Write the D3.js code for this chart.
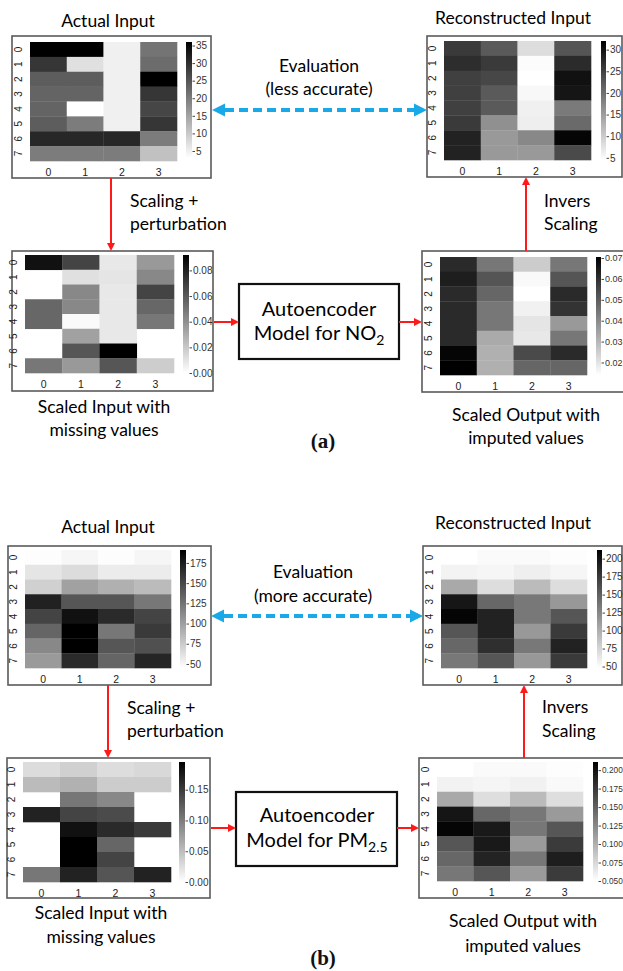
<!DOCTYPE html>
<html>
<head>
<meta charset="utf-8">
<script src="https://cdn.jsdelivr.net/npm/d3@7"></script>
<style>
    body { margin: 0; background: #fff; }
    .lbl { font-family: Lato, "Open Sans", sans-serif; fill: #000; }
    .ax text { font-family: "Liberation Sans", Arial, sans-serif; fill: #333; }
</style>
</head>
<body>
<div id="chart"></div>
<script>
// heatmap values, rows 0..7 from top to bottom, columns 0..3 (null = missing value)
var rowLabels = ["0", "1", "2", "3", "4", "5", "6", "7"];
var colLabels = ["0", "1", "2", "3"];

// (a) NO2
var no2Actual = [
    [36, 36, 5, 21], [29, 7, 5, 22], [24, 24, 5, 36], [23, 23, 5, 29],
    [23, 3, 5, 27], [24, 20, 5, 29], [31, 31, 31, 20], [20, 20, 20, 11]
];
var no2ActualRange = [3, 36];
var no2ActualTicks = [5, 10, 15, 20, 25, 30, 35];

var no2Recon = [
    [25.7, 22.3, 8.2, 22.8], [27.1, 25.7, 4.8, 27.4], [25.1, 24.3, 4.5, 30.2], [25.1, 22.3, 5.3, 29.7],
    [25.1, 22.3, 6.1, 18.8], [25.7, 16.5, 6.3, 20.6], [28.3, 15.5, 17.3, 31.5], [28.3, 15.5, 15.5, 24.0]
];
var no2ReconRange = [4.5, 32];
var no2ReconTicks = [5, 10, 15, 20, 25, 30];

var no2ScaledIn = [
    [0.086, 0.0675, 0.0083, 0.0368], [null, 0.0112, 0.0094, 0.043], [null, 0.043, 0.0083, 0.0675],
    [0.055, 0.043, 0.0083, 0.055], [0.055, 0.0018, 0.0083, 0.049], [null, 0.034, 0.0083, null],
    [null, 0.061, 0.092, null], [0.049, 0.0368, 0.061, 0.018]
];
var no2ScaledInRange = [0, 0.092];
var no2ScaledInTicks = [0, 0.02, 0.04, 0.06, 0.08];

var no2ScaledOut = [
    [0.0612, 0.0441, 0.0253, 0.0441], [0.0639, 0.0517, 0.0153, 0.0517], [0.0612, 0.0479, 0.014, 0.0612],
    [0.0612, 0.0441, 0.0172, 0.0592], [0.0612, 0.0441, 0.0197, 0.0366], [0.0612, 0.0328, 0.019, 0.0441],
    [0.0694, 0.0315, 0.0541, 0.0612], [0.0705, 0.0315, 0.0479, 0.0479]
];
var no2ScaledOutRange = [0.014, 0.0705];
var no2ScaledOutTicks = [0.02, 0.03, 0.04, 0.05, 0.06, 0.07];

// (b) PM2.5
var pmActual = [
    [46, 50, 46, 50], [60, 65, 56, 56], [72, 99, 90, 84], [172, 142, 142, 123],
    [152, 181, 167, 152], [133, 191, 123, 158], [113, 191, 142, 145], [103, 167, 133, 170]
];
var pmActualRange = [45, 191];
var pmActualTicks = [50, 75, 100, 125, 150, 175];

var pmRecon = [
    [48, 51, 51, 49], [56, 54, 58, 54], [103, 70, 92, 70], [198, 146, 135, 114],
    [209, 190, 135, 157], [157, 190, 114, 175], [146, 182, 135, 190], [135, 157, 114, 175]
];
var pmReconRange = [48, 212];
var pmReconTicks = [50, 75, 100, 125, 150, 175, 200];

var pmScaledIn = [
    [0.027, 0.036, 0.026, 0.030], [0.052, 0.060, 0.039, 0.039], [null, 0.104, 0.091, null],
    [0.169, 0.143, 0.138, null], [null, 0.182, 0.163, 0.151], [null, 0.195, 0.117, null],
    [null, 0.195, 0.143, null], [0.104, 0.169, 0.130, 0.169]
];
var pmScaledInRange = [0, 0.195];
var pmScaledInTicks = [0, 0.05, 0.10, 0.15];

var pmScaledOut = [
    [0.05, 0.053, 0.053, 0.051], [0.058, 0.056, 0.059, 0.054], [0.104, 0.071, 0.093, 0.071],
    [0.198, 0.146, 0.136, 0.114], [0.208, 0.195, 0.136, 0.157], [0.157, 0.195, 0.114, 0.174],
    [0.146, 0.189, 0.136, 0.192], [0.136, 0.157, 0.114, 0.174]
];
var pmScaledOutRange = [0.05, 0.211];
var pmScaledOutTicks = [0.05, 0.075, 0.1, 0.125, 0.15, 0.175, 0.2];

//------------------------------------------------------------
// layout of the eight panels: frame box, cell area, colourbar
//------------------------------------------------------------
var panels = [
    { data: no2Actual, range: no2ActualRange, ticks: no2ActualTicks, fmt: "d", fs: 10,
      frame: [12, 36, 211, 178], cells: [30, 42, 177, 161], bar: [186, 42, 192, 158] },
    { data: no2Recon, range: no2ReconRange, ticks: no2ReconTicks, fmt: "d", fs: 10,
      frame: [427, 36, 622, 177], cells: [444, 41, 591, 160], bar: [601, 41, 606, 160] },
    { data: no2ScaledIn, range: no2ScaledInRange, ticks: no2ScaledInTicks, fmt: ".2f", fs: 10,
      frame: [12, 251, 213, 391], cells: [25, 255, 174, 373], bar: [183, 255, 189, 373] },
    { data: no2ScaledOut, range: no2ScaledOutRange, ticks: no2ScaledOutTicks, fmt: ".2f", fs: 9,
      frame: [422, 251, 624, 392], cells: [440, 257, 587, 375], bar: [596, 257, 601, 375] },
    { data: pmActual, range: pmActualRange, ticks: pmActualTicks, fmt: "d", fs: 10,
      frame: [8, 546, 211, 685], cells: [25, 550, 171, 668], bar: [180, 550, 186, 668] },
    { data: pmRecon, range: pmReconRange, ticks: pmReconTicks, fmt: "d", fs: 10,
      frame: [423, 546, 622, 685], cells: [441, 550, 587, 668], bar: [597, 550, 602, 668] },
    { data: pmScaledIn, range: pmScaledInRange, ticks: pmScaledInTicks, fmt: ".2f", fs: 10,
      frame: [7, 758, 210, 898], cells: [23, 762, 171, 882], bar: [179, 762, 185, 882] },
    { data: pmScaledOut, range: pmScaledOutRange, ticks: pmScaledOutTicks, fmt: ".3f", fs: 8.3,
      frame: [419, 758, 624, 898], cells: [437, 762, 583, 881], bar: [593, 762, 598, 881] }
];

var W = 623, H = 971;
var svg = d3.select("#chart").append("svg")
    .attr("width", W)
    .attr("height", H);

var defs = svg.append("defs");
var grad = defs.append("linearGradient")
    .attr("id", "grey")
    .attr("x1", 0).attr("y1", 1).attr("x2", 0).attr("y2", 0);
grad.append("stop").attr("offset", "0%").attr("stop-color", "#fff");
grad.append("stop").attr("offset", "100%").attr("stop-color", "#000");

function drawHeatmap(p) {
    var g = svg.append("g");

    g.append("rect")
        .attr("x", p.frame[0]).attr("y", p.frame[1])
        .attr("width", p.frame[2] - p.frame[0])
        .attr("height", p.frame[3] - p.frame[1])
        .attr("fill", "#fff")
        .attr("stroke", "#5a5a5a")
        .attr("stroke-width", 1.6);

    var x = d3.scaleBand().domain(colLabels).range([p.cells[0], p.cells[2]]);
    var y = d3.scaleBand().domain(rowLabels).range([p.cells[1], p.cells[3]]);
    var color = d3.scaleLinear().domain(p.range).range(["#ffffff", "#000000"]).clamp(true);

    var flat = [];
    p.data.forEach(function (row, r) {
        row.forEach(function (v, c) {
            if (v !== null) flat.push({ r: rowLabels[r], c: colLabels[c], v: v });
        });
    });

    g.selectAll(".cell")
        .data(flat)
        .enter()
        .append("rect")
        .attr("class", "cell")
        .attr("x", function (d) { return x(d.c); })
        .attr("y", function (d) { return y(d.r); })
        .attr("width", x.bandwidth() + 0.3)
        .attr("height", y.bandwidth() + 0.3)
        .attr("fill", function (d) { return color(d.v); });

    // row labels, written along the axis
    g.selectAll(".rl")
        .data(rowLabels)
        .enter()
        .append("text")
        .attr("transform", function (d) {
            return "translate(" + (p.cells[0] - 8) + "," + (y(d) + y.bandwidth() / 2) + ") rotate(-90)";
        })
        .attr("text-anchor", "middle")
        .attr("font-family", "Liberation Sans, Arial, sans-serif")
        .attr("font-size", 10)
        .attr("fill", "#222")
        .text(function (d) { return d; });

    // column labels
    g.selectAll(".cl")
        .data(colLabels)
        .enter()
        .append("text")
        .attr("x", function (d) { return x(d) + x.bandwidth() / 2; })
        .attr("y", p.cells[3] + 15)
        .attr("text-anchor", "middle")
        .attr("font-family", "Liberation Sans, Arial, sans-serif")
        .attr("font-size", 10.5)
        .attr("fill", "#222")
        .text(function (d) { return d; });

    // colour bar
    var cy = d3.scaleLinear().domain(p.range).range([p.bar[3], p.bar[1]]);
    g.append("rect")
        .attr("x", p.bar[0]).attr("y", p.bar[1])
        .attr("width", p.bar[2] - p.bar[0])
        .attr("height", p.bar[3] - p.bar[1])
        .attr("fill", "url(#grey)");

    var ax = g.append("g")
        .attr("class", "ax")
        .attr("transform", "translate(" + (p.bar[2] + 0.5) + ",0)")
        .call(d3.axisRight(cy).tickValues(p.ticks).tickSize(2.5).tickPadding(1).tickFormat(d3.format(p.fmt)));
    ax.select(".domain").remove();
    ax.selectAll(".tick line").attr("stroke", "#444");
    ax.selectAll(".tick text").attr("font-size", p.fs);
}

panels.forEach(drawHeatmap);

//-----------------
// text annotations
//-----------------
function label(x, y, txt, size, anchor) {
    return svg.append("text")
        .attr("class", "lbl")
        .attr("x", x).attr("y", y)
        .attr("font-size", size)
        .attr("text-anchor", anchor || "middle")
        .text(txt);
}

// (a)
label(108, 27, "Actual Input", 17.5);
label(513, 24, "Reconstructed Input", 17.5);
label(319, 72, "Evaluation", 17.5);
label(319, 95, "(less accurate)", 17.5);
label(130, 207, "Scaling +", 17.5, "start");
label(130, 230, "perturbation", 17.5, "start");
label(544, 207, "Invers", 17.5, "start");
label(544, 230, "Scaling", 17.5, "start");
label(104, 413, "Scaled Input with", 17.5);
label(104, 436, "missing values", 17.5);
label(526, 421, "Scaled Output with", 17.5);
label(526, 444, "imputed values", 17.5);

// (b)
label(108, 533, "Actual Input", 17.5);
label(513, 529, "Reconstructed Input", 17.5);
label(313, 578, "Evaluation", 17.5);
label(313, 602, "(more accurate)", 17.5);
label(127, 714, "Scaling +", 17.5, "start");
label(127, 737, "perturbation", 17.5, "start");
label(542, 713, "Invers", 17.5, "start");
label(542, 737, "Scaling", 17.5, "start");
label(101, 919, "Scaled Input with", 17.5);
label(101, 943, "missing values", 17.5);
label(523, 927, "Scaled Output with", 17.5);
label(523, 952, "imputed values", 17.5);

// figure letters
[[323, 448, "(a)"], [323, 965, "(b)"]].forEach(function (d) {
    svg.append("text")
        .attr("x", d[0]).attr("y", d[1])
        .attr("text-anchor", "middle")
        .attr("font-family", "Liberation Serif, Times New Roman, serif")
        .attr("font-weight", "bold")
        .attr("font-size", 21)
        .attr("fill", "#111")
        .text(d[2]);
});

// autoencoder boxes
function modelBox(x0, y0, x1, y1, base, sub, cx, yA, yB) {
    svg.append("rect")
        .attr("x", x0).attr("y", y0)
        .attr("width", x1 - x0).attr("height", y1 - y0)
        .attr("fill", "#fff")
        .attr("stroke", "#111")
        .attr("stroke-width", 2.2);
    label(cx, yA, "Autoencoder", 20);
    var t = label(cx, yB, "", 20);
    t.append("tspan").text(base);
    t.append("tspan").attr("font-size", 14).attr("dy", 5).text(sub);
}
modelBox(239, 284, 399, 359, "Model for NO", "2", 319, 316, 340);
modelBox(236, 792, 397, 866, "Model for PM", "2.5", 317, 822, 847);

//-------
// arrows
//-------
var red = "#ff1a1a";
function redArrow(x1, y1, x2, y2) {
    var ang = Math.atan2(y2 - y1, x2 - x1);
    var len = 8, hw = 4;
    var bx = x2 - len * Math.cos(ang), by = y2 - len * Math.sin(ang);
    svg.append("line")
        .attr("x1", x1).attr("y1", y1).attr("x2", bx).attr("y2", by)
        .attr("stroke", red).attr("stroke-width", 2);
    svg.append("path")
        .attr("d", "M" + x2 + "," + y2 +
            "L" + (bx - hw * Math.sin(ang)) + "," + (by + hw * Math.cos(ang)) +
            "L" + (bx + hw * Math.sin(ang)) + "," + (by - hw * Math.cos(ang)) + "Z")
        .attr("fill", red);
}
redArrow(111, 178, 111, 251);
redArrow(526, 251, 526, 177);
redArrow(214, 322, 239, 322);
redArrow(399, 322, 422, 322);
redArrow(108, 685, 108, 758);
redArrow(524, 758, 524, 685);
redArrow(211, 828, 236, 828);
redArrow(397, 828, 419, 828);

var blue = "#1aa9e8";
function evalArrow(x1, x2, yy) {
    var len = 13, hw = 6.5;
    svg.append("line")
        .attr("x1", x1 + len).attr("y1", yy).attr("x2", x2 - len).attr("y2", yy)
        .attr("stroke", blue).attr("stroke-width", 4)
        .attr("stroke-dasharray", "9,5");
    svg.append("path")
        .attr("d", "M" + x1 + "," + yy + "L" + (x1 + len) + "," + (yy - hw) + "L" + (x1 + len) + "," + (yy + hw) + "Z")
        .attr("fill", blue);
    svg.append("path")
        .attr("d", "M" + x2 + "," + yy + "L" + (x2 - len) + "," + (yy - hw) + "L" + (x2 - len) + "," + (yy + hw) + "Z")
        .attr("fill", blue);
}
evalArrow(212, 427, 110);
evalArrow(211, 423, 616);
</script>
</body>
</html>
